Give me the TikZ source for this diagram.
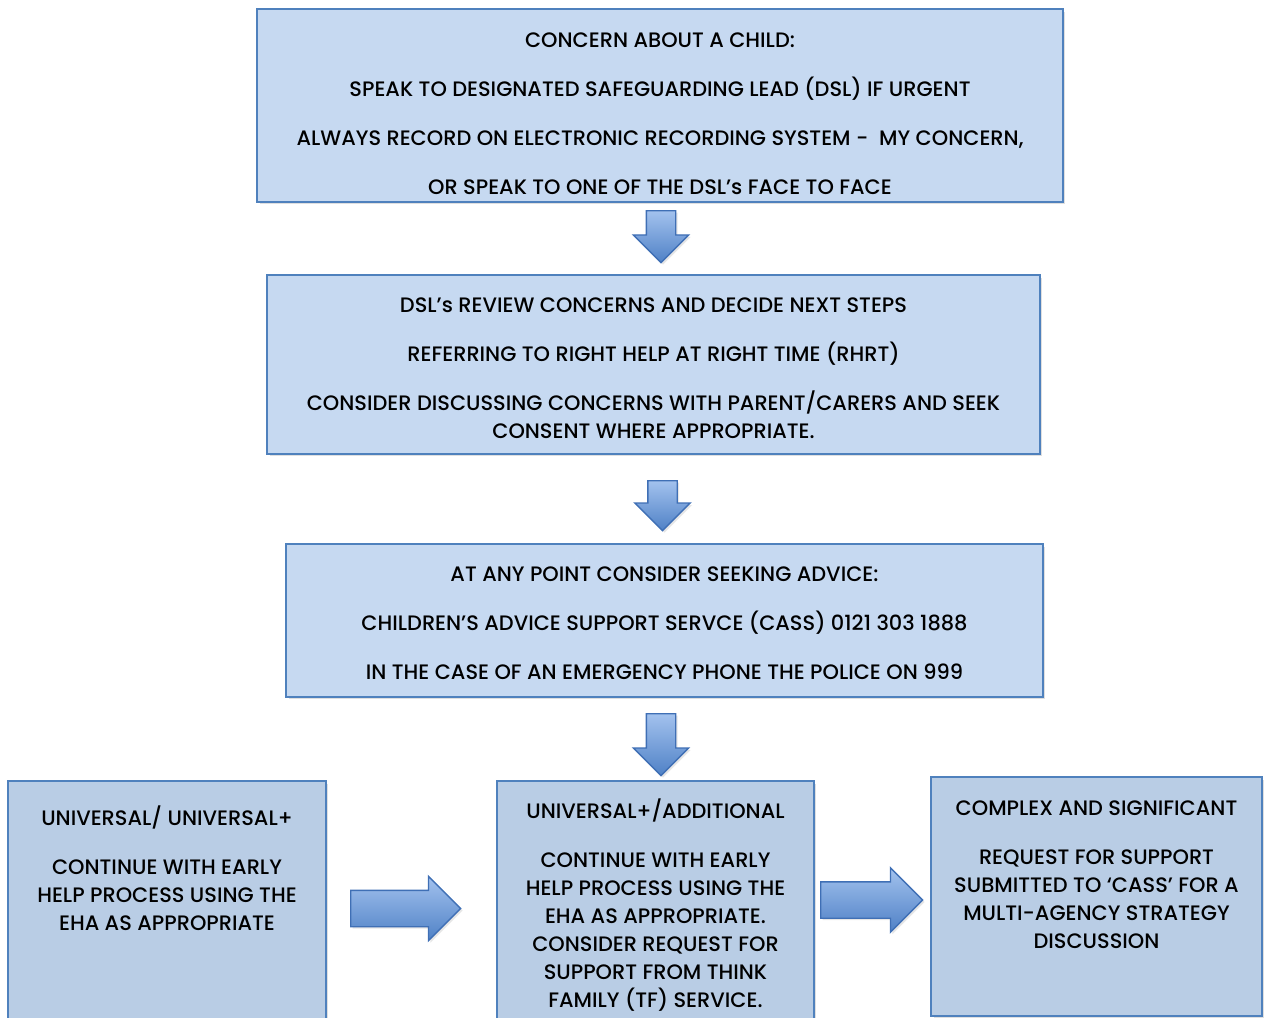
\documentclass[tikz,border=0pt]{standalone}
\usepackage{fontspec}
\setmainfont{Poppins Medium}
\usepackage{tikz}
\usetikzlibrary{shapes.arrows,shadows,positioning}
\definecolor{panelfill}{HTML}{C6D9F1}
\definecolor{panelfillb}{HTML}{B9CDE5}
\definecolor{panelline}{HTML}{4F81BD}
\definecolor{arrowtop}{HTML}{A3C2EE}
\definecolor{arrowbot}{HTML}{4F81C6}
\definecolor{arrowline}{HTML}{3F6FB5}
\newcommand{\blankline}{\\[12pt]}

\tikzset{
  panel/.style={draw=panelline, line width=1.4pt, fill=panelfill,
    drop shadow={shadow xshift=0.05cm, shadow yshift=-0.05cm, opacity=0.25}},
  paneltext/.style={align=center, inner sep=0pt, font=\fontsize{11.9}{15.9}\selectfont},
  blockarrow/.style={single arrow, draw=arrowline, line width=0.8pt, anchor=tail,
    top color=arrowtop, bottom color=arrowbot, single arrow head indent=0pt,
    drop shadow={shadow xshift=0.04cm, shadow yshift=-0.04cm, opacity=0.2}},
  downarrow/.style={blockarrow, shape border rotate=270, minimum height=1.04cm,
    minimum width=1.08cm, single arrow head extend=0.26cm, inner sep=0.28cm},
  rightarrow/.style={blockarrow, minimum width=1.26cm,
    single arrow head extend=0.28cm, inner sep=0.35cm}
}

\begin{document}
\begin{tikzpicture}[x=0.02cm, y=-0.02cm]
\useasboundingbox (0,0) rectangle (1265,1018);
\clip (0,0) rectangle (1265,1018);

\node[panel, minimum width=16.12cm, minimum height=3.86cm] (concern) at (660,105.5) {};
\node[paneltext, below=0.49cm of concern.north] (concerntxt) {
CONCERN ABOUT A CHILD:\blankline
SPEAK TO DESIGNATED SAFEGUARDING LEAD (DSL) IF URGENT\blankline
ALWAYS RECORD ON ELECTRONIC RECORDING SYSTEM -\ \ MY CONCERN,\blankline
OR SPEAK TO ONE OF THE DSL’s FACE TO FACE};

\node[panel, minimum width=15.46cm, minimum height=3.58cm] (review) at (653.5,364.5) {};
\node[paneltext, below=0.47cm of review.north] (reviewtxt) {
DSL’s REVIEW CONCERNS AND DECIDE NEXT STEPS\blankline
REFERRING TO RIGHT HELP AT RIGHT TIME (RHRT)\blankline
CONSIDER DISCUSSING CONCERNS WITH PARENT/CARERS AND SEEK\\
CONSENT WHERE APPROPRIATE.};

\node[panel, minimum width=15.14cm, minimum height=3.06cm] (advice) at (664.5,620.5) {};
\node[paneltext, below=0.47cm of advice.north] (advicetxt) {
AT ANY POINT CONSIDER SEEKING ADVICE:\blankline
CHILDREN’S ADVICE SUPPORT SERVCE (CASS) 0121 303 1888\blankline
IN THE CASE OF AN EMERGENCY PHONE THE POLICE ON 999};

\node[panel, fill=panelfillb, minimum width=6.36cm, minimum height=4.98cm] (universal) at (167,905.5) {};
\node[paneltext, below=0.51cm of universal.north] (universaltxt) {
UNIVERSAL/ UNIVERSAL+\blankline
CONTINUE WITH EARLY\\
HELP PROCESS USING THE\\
EHA AS APPROPRIATE};

\node[panel, fill=panelfillb, minimum width=6.34cm, minimum height=4.98cm] (additional) at (655.5,905.5) {};
\node[paneltext, below=0.37cm of additional.north] (additionaltxt) {
UNIVERSAL+/ADDITIONAL\blankline
CONTINUE WITH EARLY\\
HELP PROCESS USING THE\\
EHA AS APPROPRIATE.\\
CONSIDER REQUEST FOR\\
SUPPORT FROM THINK\\
FAMILY (TF) SERVICE.};

\node[panel, fill=panelfillb, minimum width=6.62cm, minimum height=4.78cm] (complex) at (1096.5,896.5) {};
\node[paneltext, below=0.49cm of complex.north] (complextxt) {
COMPLEX AND SIGNIFICANT\blankline
REQUEST FOR SUPPORT\\
SUBMITTED TO ‘CASS’ FOR A\\
MULTI-AGENCY STRATEGY\\
DISCUSSION};

\node[downarrow] (down1) at (661,210) {};
\node[downarrow, minimum height=1.0cm] (down2) at (662.5,480) {};
\node[downarrow, minimum height=1.24cm] (down3) at (661,713) {};
\node[rightarrow, minimum height=2.2cm] (right1) at (350,908.5) {};
\node[rightarrow, minimum height=2.04cm] (right2) at (820,900) {};
\end{tikzpicture}
\end{document}
